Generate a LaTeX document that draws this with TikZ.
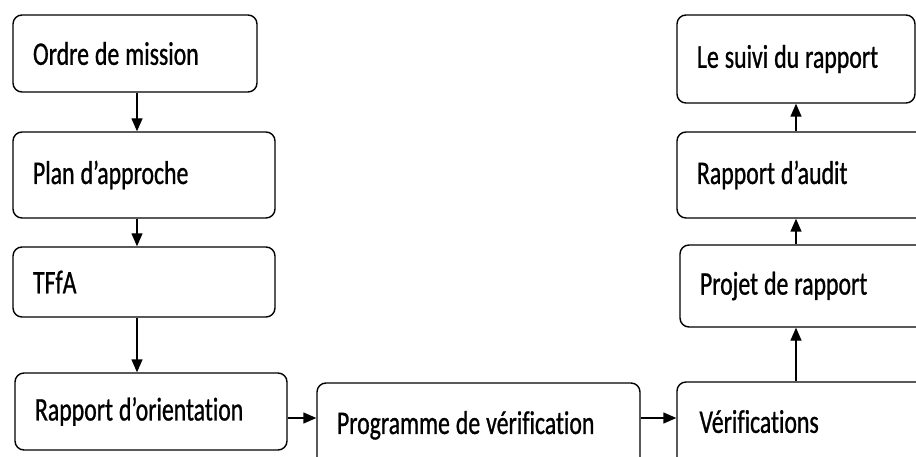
\documentclass[tikz,border=0pt]{standalone}
\usepackage{fontspec}
\setmainfont[Ligatures={NoCommon}, FakeStretch=0.72, FakeBold=0.8]{Carlito}
\usetikzlibrary{arrows.meta}
% tight interword space for the box labels
\newcommand{\boxfont}{\fontsize{33}{38}\selectfont\fontdimen2\font=6pt\fontdimen3\font=1pt}
\begin{document}
\begin{tikzpicture}[x=1pt,y=-1pt,
  stepbox/.style={draw, line width=1.4pt, rounded corners=9pt, align=flush left,
    inner xsep=20pt, inner ysep=0pt, font=\boxfont, anchor=center},
  flow/.style={line width=1.4pt, -{Triangle[length=13pt,width=11pt]}}]
\useasboundingbox (0,0) rectangle (916,457);
\clip (0,0) rectangle (916,457);
% left column
\node[stepbox, minimum width=244pt, text width=204pt, minimum height=77pt] (ordre) at (135,53.5) {Ordre de mission};
\node[stepbox, minimum width=262pt, text width=222pt, minimum height=86pt] (plan) at (144,175) {Plan d'approche};
\node[stepbox, minimum width=262pt, text width=222pt, minimum height=70pt] (tffa) at (144,282) {TFfA};
\node[stepbox, minimum width=272pt, text width=232pt, minimum height=77pt] (orient) at (151,411.5) {Rapport d'orientation};
% bottom row
\node[stepbox, minimum width=323pt, text width=283pt, minimum height=88pt] (prog) at (478.5,427) {\raisebox{9pt}{Programme de vérification}};
\node[stepbox, minimum width=270pt, text width=225pt, minimum height=88pt, inner xsep=22.5pt] (verif) at (812,426) {\raisebox{9pt}{Vérifications}};
% right column
\node[stepbox, minimum width=260pt, text width=220pt, minimum height=82pt] (projet) at (810,286) {Projet de rapport};
\node[stepbox, minimum width=263pt, text width=223pt, minimum height=86pt] (audit) at (808.5,175) {Rapport d'audit};
\node[stepbox, minimum width=238pt, text width=198pt, minimum height=88pt] (suivi) at (796,59) {\mbox{Le suivi du rapport}};
% connectors
\draw[flow] (ordre.south -| 137,0) -- (plan.north -| 137,0);
\draw[flow] (plan.south -| 137,0) -- (tffa.north -| 137,0);
\draw[flow] (tffa.south -| 137,0) -- (orient.north -| 137,0);
\draw[flow] (orient.east |- 0,418) -- (prog.west |- 0,418);
\draw[flow] (prog.east |- 0,418) -- (verif.west |- 0,418);
\draw[flow] (verif.north -| 796,0) -- (projet.south -| 796,0);
\draw[flow] (projet.north -| 796,0) -- (audit.south -| 796,0);
\draw[flow] (audit.north -| 796,0) -- (suivi.south -| 796,0);
\end{tikzpicture}
\end{document}
